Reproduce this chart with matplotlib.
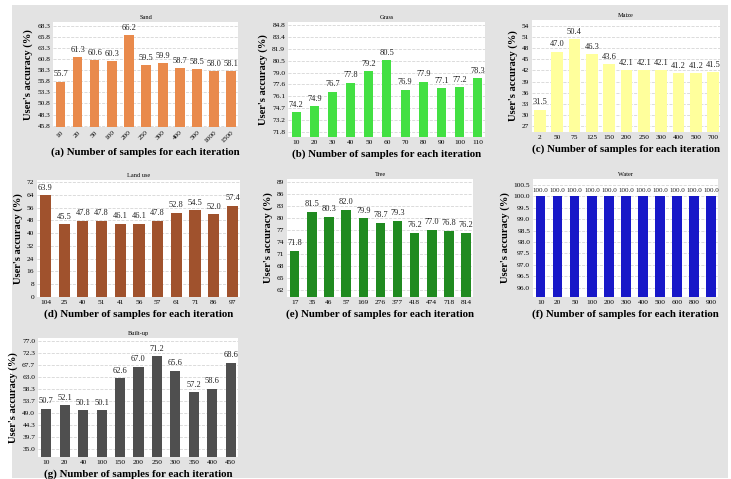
import matplotlib.pyplot as plt
import numpy as np
from matplotlib.patches import Rectangle

# samples per iteration (tick labels) and user's accuracy for each class
ticks_a = ["10", "20", "50", "100", "200", "250", "300", "400", "500", "1000", "1500"]
acc_a = [55.7, 61.3, 60.6, 60.3, 66.2, 59.5, 59.9, 58.7, 58.5, 58.0, 58.1]

ticks_b = ["10", "20", "30", "40", "50", "60", "70", "80", "90", "100", "110"]
acc_b = [74.2, 74.9, 76.7, 77.8, 79.2, 80.5, 76.9, 77.9, 77.1, 77.2, 78.3]

ticks_c = ["2", "50", "75", "125", "150", "200", "250", "300", "400", "500", "700"]
acc_c = [31.5, 47.0, 50.4, 46.3, 43.6, 42.1, 42.1, 42.1, 41.2, 41.2, 41.5]

ticks_d = ["104", "25", "40", "51", "41", "56", "57", "61", "71", "86", "97"]
acc_d = [63.9, 45.5, 47.8, 47.8, 46.1, 46.1, 47.8, 52.8, 54.5, 52.0, 57.4]

ticks_e = ["17", "35", "46", "57", "169", "276", "377", "418", "474", "718", "814"]
acc_e = [71.8, 81.5, 80.3, 82.0, 79.9, 78.7, 79.3, 76.2, 77.0, 76.8, 76.2]

ticks_f = ["10", "20", "50", "100", "200", "300", "400", "500", "600", "800", "900"]
acc_f = [100.0] * 11

ticks_g = ["10", "20", "40", "100", "150", "200", "250", "300", "350", "400", "450"]
acc_g = [50.7, 52.1, 50.1, 50.1, 62.6, 67.0, 71.2, 65.6, 57.2, 58.6, 68.6]

W, H = 731, 479
fig = plt.figure(figsize=(W / 100, H / 100), dpi=100)
fig.patch.set_facecolor("white")
# grey backdrop behind all panels
fig.patches.append(Rectangle((12 / W, 1 / H), 716 / W, 473 / H,
                             transform=fig.transFigure, facecolor="#e3e3e3",
                             edgecolor="none", zorder=-10))

serif = "Liberation Serif"


def panel(box, letter, title, labels, values, color, ylim, yticks,
          width=0.55, rot=0, fmt="{:.1f}", lblsize=6):
    l, t, r, b = box
    ax = fig.add_axes([l / W, 1 - b / H, (r - l) / W, (b - t) / H])
    ax.set_facecolor("white")
    x = np.arange(len(values))
    ax.bar(x, values, width=width, color=color, zorder=3)
    for xi, v in zip(x, values):
        ax.text(xi, v + (ylim[1] - ylim[0]) * 0.03, "{:.1f}".format(v),
                ha="center", va="bottom", fontsize=lblsize, family=serif,
                color="#222222", zorder=4)
    ax.set_ylim(*ylim)
    ax.set_xlim(-0.45, len(values) - 0.6)
    ax.set_yticks(yticks)
    ax.set_yticklabels([fmt.format(v) for v in yticks], fontsize=5.3,
                       family=serif)
    ax.set_xticks(x)
    if rot:
        ax.set_xticklabels(labels, fontsize=5.3, family=serif, rotation=rot,
                           ha="right", rotation_mode="anchor")
    else:
        ax.set_xticklabels(labels, fontsize=5.3, family=serif)
    ax.tick_params(length=0, pad=2)
    ax.grid(axis="y", linestyle="--", color="#d6d6d6", linewidth=0.6,
            zorder=0)
    for s in ax.spines.values():
        s.set_visible(False)
    ax.set_title(title, fontsize=4.5, family=serif, pad=2)
    ax.set_ylabel("User's accuracy (%)", fontsize=7.6, family=serif,
                  fontweight="bold", labelpad=3)
    ax.set_xlabel("(" + letter + ") Number of samples for each iteration",
                  fontsize=7.8, family=serif, fontweight="bold", labelpad=3)
    return ax


panel((53, 22, 238, 127), "a", "Sand", ticks_a, acc_a, "#e98a4c",
      (45.5, 69.1), np.linspace(45.8, 68.3, 10), rot=45)
panel((288, 22, 485, 137), "b", "Grass", ticks_b, acc_b, "#43e043",
      (71.15, 85.2), np.linspace(71.8, 84.8, 10), width=0.5)
panel((532, 20, 720, 132), "c", "Maize", ticks_c, acc_c, "#ffff9c",
      (25.5, 55.5), np.arange(27, 55, 3), width=0.68, fmt="{:.0f}")
panel((37, 180, 240, 297), "d", "Land use", ticks_d, acc_d, "#a0522d",
      (0, 73.4), np.arange(0, 73, 8), width=0.6, fmt="{:.0f}")
panel((287, 179, 473, 297), "e", "Tree", ticks_e, acc_e, "#208a20",
      (60.2, 89.7), np.arange(62, 90, 3), fmt="{:.0f}")
panel((533, 179, 718, 297), "f", "Water", ticks_f, acc_f, "#1818c8",
      (95.6, 100.75), np.arange(96.0, 100.6, 0.5), lblsize=5)
panel((38, 338, 238, 457), "g", "Built-up", ticks_g, acc_g, "#4f4f4f",
      (32.0, 78.3), np.linspace(35, 77, 10))

plt.savefig("out.png", dpi=100, facecolor=fig.get_facecolor())
